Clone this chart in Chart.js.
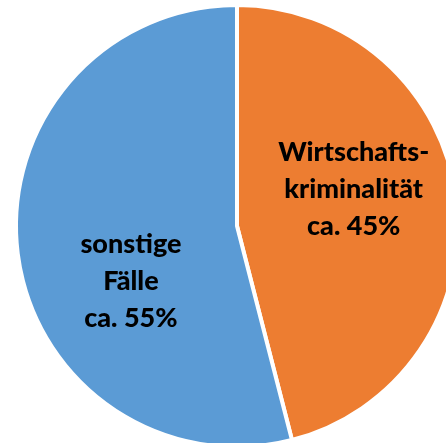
<!DOCTYPE html>
<html>
<head>
<meta charset="utf-8">
<script src="https://cdn.jsdelivr.net/npm/chart.js@4"></script>
<style>
  html, body { margin: 0; padding: 0; background: #fff; overflow: hidden; }
  #wrap { position: absolute; left: 0; top: 0; width: 474px; height: 454px; }
</style>
</head>
<body>
<div id="wrap"><canvas id="pie"></canvas></div>
<script>
// ── data ──
const categories = ['Wirtschaftskriminalität', 'sonstige Fälle'];
const shares = [46, 54];
const sliceColors = ['#ED7D31', '#5B9BD5'];
const sliceLabels = [
  ['Wirtschafts-', 'kriminalität', 'ca. 45%'],
  ['sonstige', 'Fälle', 'ca. 55%']
];

// label anchor per slice, as fraction of the radius from the centre
const labelAnchors = [[0.528, -0.167], [-0.480, 0.252]];

const sliceText = {
  id: 'sliceText',
  afterDatasetsDraw(chart) {
    const ctx = chart.ctx;
    const arcs = chart.getDatasetMeta(0).data;
    ctx.save();
    ctx.font = '900 27px Lato, "Open Sans", sans-serif';
    ctx.fillStyle = '#000';
    ctx.textAlign = 'center';
    ctx.textBaseline = 'middle';
    arcs.forEach((arc, i) => {
      const r = arc.outerRadius;
      const x = arc.x + labelAnchors[i][0] * r;
      const y = arc.y + labelAnchors[i][1] * r;
      const lines = sliceLabels[i];
      const lh = 37;
      lines.forEach((t, j) => {
        ctx.fillText(t, x, y + (j - (lines.length - 1) / 2) * lh);
      });
    });
    ctx.restore();
  }
};

new Chart(document.getElementById('pie'), {
  type: 'pie',
  data: {
    labels: categories,
    datasets: [{
      data: shares,
      backgroundColor: sliceColors,
      borderColor: '#fff',
      borderWidth: 4
    }]
  },
  options: {
    responsive: true,
    maintainAspectRatio: false,
    animation: false,
    layout: { padding: { left: 5, right: 5, top: 3, bottom: 5 } },
    plugins: { legend: { display: false }, tooltip: { enabled: false } }
  },
  plugins: [sliceText]
});
</script>
</body>
</html>
